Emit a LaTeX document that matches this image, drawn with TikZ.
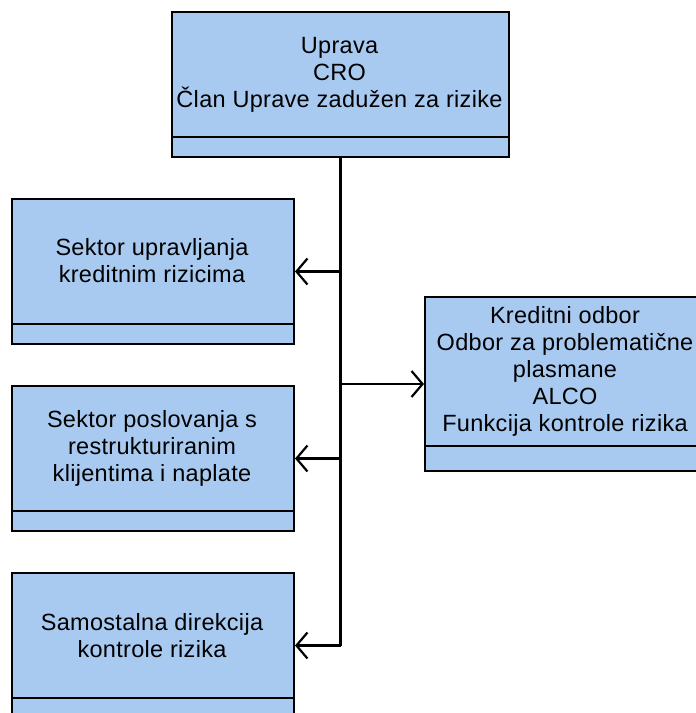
\documentclass[tikz,border=0pt]{standalone}
\usepackage{fontspec}
\setmainfont{Liberation Sans}[LetterSpace=1.3]
\usetikzlibrary{arrows.meta}
\definecolor{boxblue}{RGB}{168,202,240}
\tikzset{
  box/.style={draw=black, fill=boxblue, line width=2pt, rectangle, anchor=north west, inner sep=0pt},
  boxtext/.style={align=center, font=\fontsize{23.5}{27}\selectfont, inner sep=0pt},
  divider/.style={draw=black, line width=2pt},
  trunk/.style={draw=black, line width=2.6pt},
  arr/.style={draw=black, line width=2.2pt, -{Straight Barb[length=11pt,width=26pt,line width=2.2pt]}}
}
\begin{document}
\begin{tikzpicture}[x=1pt,y=-1pt]
\useasboundingbox (0,0) rectangle (696,713);
\begin{scope}
\clip (0,0) rectangle (696,713);
% boxes
\node[box, minimum width=337pt, minimum height=145pt] (top) at (171,11) {};
\node[box, minimum width=282pt, minimum height=145pt] (b1) at (11,198) {};
\node[box, minimum width=282pt, minimum height=145pt] (b2) at (11,385) {};
\node[box, minimum width=282pt, minimum height=145pt] (b3) at (11,572) {};
\node[box, minimum width=282pt, minimum height=174pt] (r) at (424,296) {};
% dividers
\draw[divider] ([yshift=21pt]top.south west) -- ([yshift=21pt]top.south east);
\draw[divider] ([yshift=21pt]b1.south west) -- ([yshift=21pt]b1.south east);
\draw[divider] ([yshift=21pt]b2.south west) -- ([yshift=21pt]b2.south east);
\draw[divider] ([yshift=21pt]b3.south west) -- ([yshift=21pt]b3.south east);
\draw[divider] ([yshift=26pt]r.south west) -- ([yshift=26pt]r.south east);
% texts
\node[boxtext] (ttop) at (339.5,74.5) {Uprava\\CRO\\Član Uprave zadužen za rizike};
\node[boxtext] (tb1) at (152,261) {Sektor upravljanja\\kreditnim rizicima};
\node[boxtext] (tb2) at (152,448.5) {Sektor poslovanja s\\restrukturiranim\\klijentima i naplate};
\node[boxtext] (tb3) at (152,635.5) {Samostalna direkcija\\kontrole rizika};
\node[boxtext] (tr) at (565,371.5) {Kreditni odbor\\Odbor za problematične\\plasmane\\ALCO\\Funkcija kontrole rizika};
% connectors
\coordinate (vend) at (top.south |- b3.east);
\draw[trunk] (top.south) -- (vend);
\draw[arr] (top.south |- b1.east) -- (b1.east);
\draw[arr] (top.south |- b2.east) -- (b2.east);
\draw[arr] (vend) -- (b3.east);
\draw[arr] (top.south |- r.west) -- (r.west);
\end{scope}
\end{tikzpicture}
\end{document}
